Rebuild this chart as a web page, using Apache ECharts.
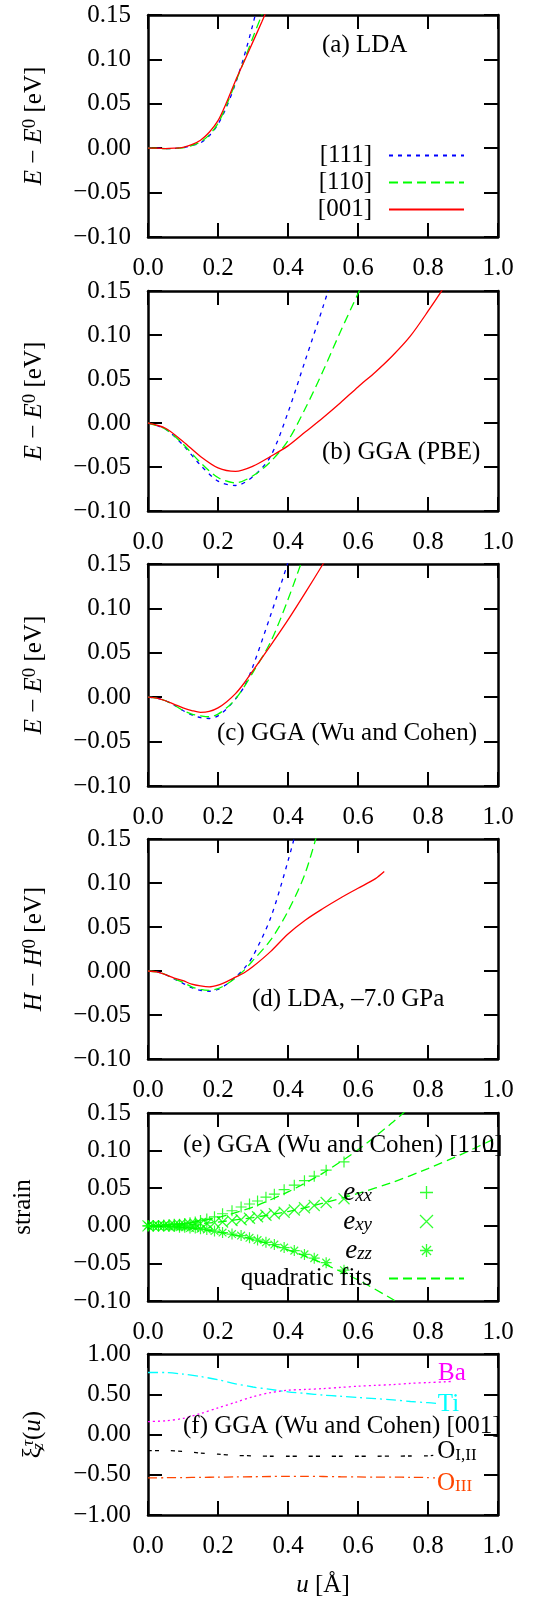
<!DOCTYPE html>
<html><head><meta charset="utf-8">
<script src="https://cdn.jsdelivr.net/npm/echarts@6/dist/echarts.min.js"></script>
<style>html,body{margin:0;padding:0;background:#fff;}#c{width:548px;height:1598px;}</style>
</head><body><div id="c"></div>
<script>
// ---------- data ----------
const X_TICK_STEP = 0.2;
const U_A = [0, 0.025, 0.05, 0.075, 0.1, 0.125, 0.15, 0.175, 0.2, 0.225, 0.25, 0.275, 0.3, 0.325, 0.35];
const A_111 = [0, 0, -0.0005, -0.0003, 0.0005, 0.003, 0.006, 0.014, 0.027, 0.047, 0.073, 0.104, 0.140, 0.180, 0.220];
const A_110 = [0, 0, -0.0005, -0.0003, 0.0005, 0.003, 0.007, 0.015, 0.028, 0.049, 0.074, 0.099, 0.125, 0.150, 0.176];
const A_001 = [0, 0, -0.0005, 0, 0.001, 0.004, 0.009, 0.018, 0.031, 0.052, 0.076, 0.098, 0.120, 0.142, 0.165];

const U_B = [0, 0.05, 0.1, 0.15, 0.2, 0.25, 0.3, 0.35, 0.4, 0.45, 0.5, 0.55, 0.6, 0.65, 0.7, 0.75, 0.8, 0.85, 0.9];
const B_111 = [0, -0.007, -0.025, -0.048, -0.066, -0.071, -0.061, -0.038, 0.012, 0.072, 0.132, 0.195];
const B_110 = [0, -0.007, -0.024, -0.045, -0.062, -0.068, -0.060, -0.044, -0.020, 0.017, 0.059, 0.104, 0.147, 0.190];
const B_001 = [0, -0.006, -0.021, -0.038, -0.051, -0.055, -0.049, -0.038, -0.026, -0.010, 0.006, 0.023, 0.041, 0.058, 0.077, 0.099, 0.127, 0.157, 0.190];

const U_C = [0, 0.025, 0.05, 0.075, 0.1, 0.125, 0.15, 0.175, 0.2, 0.225, 0.25, 0.275, 0.3, 0.35, 0.4, 0.45, 0.5, 0.55];
const C_111 = [0, -0.001, -0.004, -0.009, -0.015, -0.020, -0.023, -0.024, -0.021, -0.013, -0.002, 0.012, 0.035, 0.092, 0.152, 0.220];
const C_110 = [0, -0.001, -0.004, -0.009, -0.015, -0.019, -0.021, -0.022, -0.019, -0.012, -0.002, 0.012, 0.028, 0.062, 0.110, 0.165];
const C_001 = [0, -0.001, -0.004, -0.008, -0.012, -0.015, -0.017, -0.016, -0.012, -0.005, 0.004, 0.016, 0.030, 0.058, 0.087, 0.118, 0.150, 0.183];

const U_D = [0, 0.025, 0.05, 0.075, 0.1, 0.125, 0.15, 0.175, 0.2, 0.225, 0.25, 0.275, 0.3, 0.35, 0.4, 0.45, 0.5, 0.55, 0.6, 0.65, 0.675];
const D_111 = [0, -0.001, -0.004, -0.009, -0.014, -0.019, -0.022, -0.023, -0.021, -0.015, -0.007, 0.003, 0.017, 0.060, 0.125, 0.200];
const D_110 = [0, -0.001, -0.004, -0.009, -0.013, -0.018, -0.021, -0.022, -0.020, -0.015, -0.008, 0.001, 0.012, 0.035, 0.068, 0.112, 0.180];
const D_001 = [0, -0.001, -0.004, -0.008, -0.011, -0.015, -0.017, -0.018, -0.016, -0.012, -0.007, -0.002, 0.005, 0.022, 0.042, 0.058, 0.071, 0.083, 0.094, 0.105, 0.113];

const U_E = [0, 0.015, 0.03, 0.045, 0.06, 0.075, 0.09, 0.105, 0.12, 0.135, 0.15, 0.168, 0.19, 0.213, 0.24, 0.266, 0.29, 0.313, 0.337, 0.361, 0.389, 0.418, 0.447, 0.475, 0.509, 0.56];
const E_XX = [0, 0, 0, 0.001, 0.001, 0.002, 0.002, 0.003, 0.004, 0.005, 0.007, 0.009, 0.012, 0.016, 0.020, 0.025, 0.029, 0.033, 0.038, 0.042, 0.048, 0.054, 0.060, 0.066, 0.074, 0.085];
const E_XY = [0, 0, 0, 0, 0, 0.001, 0.001, 0.001, 0.002, 0.002, 0.003, 0.003, 0.004, 0.005, 0.007, 0.008, 0.010, 0.012, 0.014, 0.016, 0.018, 0.021, 0.024, 0.027, 0.031, 0.036];
const E_ZZ = [0, 0, 0, 0, -0.001, -0.001, -0.002, -0.002, -0.003, -0.003, -0.004, -0.005, -0.007, -0.009, -0.011, -0.013, -0.016, -0.019, -0.022, -0.025, -0.029, -0.033, -0.038, -0.043, -0.049, -0.059];
const U_FIT = [0, 0.1, 0.2, 0.3, 0.4, 0.5, 0.6, 0.7, 0.8, 0.9, 1.0];
const FIT_XX = [0, 0.003, 0.011, 0.025, 0.045, 0.070, 0.101, 0.138, 0.180, 0.228, 0.280];
const FIT_XY = [0, 0.001, 0.005, 0.011, 0.019, 0.030, 0.043, 0.058, 0.076, 0.096, 0.118];
const FIT_ZZ = [0, -0.002, -0.008, -0.018, -0.032, -0.050, -0.072, -0.098, -0.128, -0.162, -0.200];

const U_BA = [0, 0.05, 0.1, 0.15, 0.2, 0.25, 0.3, 0.35, 0.4, 0.45, 0.5, 0.55, 0.6, 0.65, 0.7, 0.75, 0.8, 0.85, 0.87];
const F_BA = [0.16, 0.17, 0.20, 0.26, 0.33, 0.40, 0.47, 0.52, 0.55, 0.56, 0.57, 0.585, 0.60, 0.61, 0.62, 0.635, 0.645, 0.655, 0.66];
const U_TI = [0, 0.05, 0.1, 0.15, 0.2, 0.25, 0.3, 0.35, 0.4, 0.45, 0.5, 0.55, 0.6, 0.65, 0.7, 0.75, 0.8, 0.825];
const F_TI = [0.77, 0.77, 0.75, 0.72, 0.68, 0.63, 0.59, 0.56, 0.53, 0.51, 0.49, 0.475, 0.46, 0.445, 0.43, 0.41, 0.395, 0.385];
const U_O12 = [0, 0.05, 0.1, 0.15, 0.2, 0.25, 0.3, 0.35, 0.4, 0.45, 0.5, 0.55, 0.6, 0.65, 0.7, 0.75, 0.8, 0.815];
const F_O12 = [-0.20, -0.20, -0.21, -0.23, -0.245, -0.26, -0.265, -0.27, -0.27, -0.27, -0.27, -0.27, -0.27, -0.27, -0.268, -0.267, -0.265, -0.26];
const U_O3 = [0, 0.05, 0.1, 0.15, 0.2, 0.25, 0.3, 0.35, 0.4, 0.45, 0.5, 0.55, 0.6, 0.65, 0.7, 0.75, 0.8, 0.82];
const F_O3 = [-0.54, -0.537, -0.535, -0.532, -0.53, -0.527, -0.525, -0.522, -0.52, -0.52, -0.522, -0.525, -0.527, -0.53, -0.53, -0.532, -0.535, -0.54];

const LEGEND_A = ['[111]', '[110]', '[001]'];
const LEGEND_E = ['e_xx', 'e_xy', 'e_zz', 'quadratic fits'];
const PANEL_LABELS = ['(a) LDA', '(b) GGA (PBE)', '(c) GGA (Wu and Cohen)', '(d) LDA, \u20137.0 GPa',
  '(e) GGA (Wu and Cohen) [110]', '(f) GGA (Wu and Cohen) [001]'];

// ---------- layout / style ----------
const F = "'Liberation Serif','Times New Roman',serif";
const FS = 25;
const BLUE = '#0000ff', GREEN = '#00ff00', RED = '#ff0000';
const D111 = [4, 5], D110 = [9, 5];
const PANELS = [{top: 15, h: 222}, {top: 291, h: 220}, {top: 564, h: 222}, {top: 839, h: 220}, {top: 1113, h: 188}, {top: 1354, h: 161}];
const LEFT = 148, WIDTH = 350;

const richBase = {
  i: {fontStyle: 'italic', fontSize: FS, fontFamily: F, lineHeight: 27},
  n: {fontSize: FS, fontFamily: F, lineHeight: 27},
  sup: {fontSize: 19, fontFamily: F, lineHeight: 2, verticalAlign: 'top'},
  subi: {fontSize: 17, fontStyle: 'italic', fontFamily: F, lineHeight: 3, verticalAlign: 'bottom', width: 1, align: 'left'},
  supi: {fontSize: 17, fontStyle: 'italic', fontFamily: F, lineHeight: 3, verticalAlign: 'top'}
};
const YNAMES = [
  '{i|E}{n| \u2212 }{i|E}{sup|0}{n| [eV]}', '{i|E}{n| \u2212 }{i|E}{sup|0}{n| [eV]}', '{i|E}{n| \u2212 }{i|E}{sup|0}{n| [eV]}',
  '{i|H}{n| \u2212 }{i|H}{sup|0}{n| [eV]}', 'strain', '{n|\u03be}{subi|z}{supi|\u03c4}{n|(}{i|u}{n|)}'
];
const NAMEGAP = [100, 100, 100, 100, 111, 101];

const xAxis = [], yAxis = [], grid = [];
PANELS.forEach((p, gi) => {
  grid.push({left: LEFT, width: WIDTH, top: p.top, height: p.h, containLabel: false});
  const isF = gi === 5;
  ['bottom', 'top'].forEach(pos => xAxis.push({
    type: 'value', gridIndex: gi, position: pos, min: 0, max: 1, interval: X_TICK_STEP,
    axisLine: {show: true, onZero: false, lineStyle: {color: '#000', width: 2.5}},
    axisTick: {show: true, inside: true, length: 14, lineStyle: {color: '#000', width: 2}},
    axisLabel: {show: pos === 'bottom', margin: 19, fontSize: FS, fontFamily: F, color: '#000',
      formatter: v => v.toFixed(1)},
    splitLine: {show: false}
  }));
  ['left', 'right'].forEach(pos => yAxis.push({
    type: 'value', gridIndex: gi, position: pos,
    min: isF ? -1 : -0.1, max: isF ? 1 : 0.15, interval: isF ? 0.5 : 0.05,
    axisLine: {show: true, onZero: false, lineStyle: {color: '#000', width: 2.5}},
    axisTick: {show: true, inside: true, length: 14, lineStyle: {color: '#000', width: 2}},
    axisLabel: {show: pos === 'left', margin: 17, fontSize: FS, fontFamily: F, color: '#000',
      formatter: v => v.toFixed(2).replace('-', '\u2212')},
    splitLine: {show: false},
    name: pos === 'left' ? YNAMES[gi] : '', nameLocation: 'middle', nameRotate: 90, nameGap: NAMEGAP[gi],
    nameTextStyle: {fontSize: FS, fontFamily: F, color: '#000', lineHeight: 27, rich: richBase}
  }));
});

const TRANSP = 'rgba(0,0,0,0)';
function curve(gi, name, U, V, color, dash, extra) {
  return Object.assign({
    type: 'line', name, xAxisIndex: 2 * gi, yAxisIndex: 2 * gi,
    data: V.map((v, k) => [U[k], v]), symbol: 'none', smooth: 0.3, clip: true, silent: true,
    lineStyle: {color, width: 1.3, type: dash},
    itemStyle: {color: TRANSP, borderColor: TRANSP, borderWidth: 0}
  }, extra || {});
}
const PLUS = 'path://M0 5L10 5M5 0L5 10';
const CROSS = 'path://M0 0L10 10M10 0L0 10';
const STAR = 'path://M0 5L10 5M5 0L5 10M1.5 1.5L8.5 8.5M8.5 1.5L1.5 8.5';
function marks(name, U, V, sym) {
  return {type: 'scatter', name, xAxisIndex: 8, yAxisIndex: 8, silent: true,
    data: V.map((v, k) => [U[k], v]), symbol: sym, symbolSize: 11,
    itemStyle: {color: TRANSP, borderColor: GREEN, borderWidth: 1.2}};
}
function endLab(text, color, offset, rich) {
  return {endLabel: {show: true, formatter: text, color, fontSize: FS, fontFamily: F, distance: 0,
    offset, lineHeight: 25, rich: rich || {}}};
}
const OR = {m: {fontSize: FS, fontFamily: F, lineHeight: 25}, s: {fontSize: 17, fontFamily: F, lineHeight: 5, verticalAlign: 'bottom'}};

const series = [
  curve(0, LEGEND_A[0], U_A, A_111, BLUE, D111), curve(0, LEGEND_A[1], U_A, A_110, GREEN, D110), curve(0, LEGEND_A[2], U_A, A_001, RED, 'solid'),
  curve(1, LEGEND_A[0], U_B, B_111, BLUE, D111), curve(1, LEGEND_A[1], U_B, B_110, GREEN, D110), curve(1, LEGEND_A[2], U_B, B_001, RED, 'solid'),
  curve(2, LEGEND_A[0], U_C, C_111, BLUE, D111), curve(2, LEGEND_A[1], U_C, C_110, GREEN, D110), curve(2, LEGEND_A[2], U_C, C_001, RED, 'solid'),
  curve(3, LEGEND_A[0], U_D, D_111, BLUE, D111), curve(3, LEGEND_A[1], U_D, D_110, GREEN, D110), curve(3, LEGEND_A[2], U_D, D_001, RED, 'solid'),
  marks(LEGEND_E[0], U_E, E_XX, PLUS), marks(LEGEND_E[1], U_E, E_XY, CROSS), marks(LEGEND_E[2], U_E, E_ZZ, STAR),
  curve(4, LEGEND_E[3], U_FIT, FIT_XX, GREEN, D110, {smooth: 0.2}),
  curve(4, LEGEND_E[3], U_FIT, FIT_XY, GREEN, D110, {smooth: 0.2}),
  curve(4, LEGEND_E[3], U_FIT, FIT_ZZ, GREEN, D110, {smooth: 0.2}),
  curve(5, 'Ba', U_BA, F_BA, '#ff00ff', [2, 3], endLab('Ba', '#ff00ff', [-14.5, -8])),
  curve(5, 'Ti', U_TI, F_TI, '#00ffff', [10, 4, 2, 4], endLab('Ti', '#00ffff', [1, 1])),
  curve(5, 'OI', U_O12, F_O12, '#000000', [4, 3, 4, 12], endLab('{m|O}{s|I,II}', '#000000', [4, -4], OR)),
  curve(5, 'OIII', U_O3, F_O3, '#ff4500', [9, 4, 2, 4], endLab('{m|O}{s|III}', '#ff4500', [2, 5], OR))
];

const legend = [
  {data: LEGEND_A, orient: 'vertical', align: 'right', right: 83, top: 143, padding: 0,
    itemWidth: 75, itemHeight: 10, itemGap: 2, selectedMode: false,
    itemStyle: {borderWidth: 0},
    formatter: n => n + '{g| }',
    textStyle: {fontSize: FS, fontFamily: F, color: '#000', lineHeight: 25, rich: {g: {width: 12, fontSize: FS, lineHeight: 25}}}},
  {data: LEGEND_E, orient: 'vertical', align: 'right', right: 83, top: 1179, padding: 0,
    itemWidth: 75, itemHeight: 13, itemGap: 2, selectedMode: false,
    itemStyle: {borderWidth: 1.3},
    formatter: n => n === 'quadratic fits' ? 'quadratic fits{g| }' : '{e|e}{s|' + n.slice(2) + '}{g| }',
    textStyle: {fontSize: FS, fontFamily: F, color: '#000', lineHeight: 25, rich: {
      e: {fontStyle: 'italic', fontSize: 27, fontFamily: F, lineHeight: 25},
      s: {fontStyle: 'italic', fontSize: 19, fontFamily: F, lineHeight: 6, verticalAlign: 'bottom'},
      g: {width: 12, fontSize: FS, lineHeight: 25}}}}
];

const LABEL_POS = [[322, 45], [322, 452], [217, 733], [252, 999], [183, 1145], [183, 1426]];
const graphic = PANEL_LABELS.map((t, k) => ({
  type: 'text', x: LABEL_POS[k][0], y: LABEL_POS[k][1], z: 5,
  style: {text: t, fontSize: FS, fontFamily: F, fill: '#000', align: 'left', verticalAlign: 'middle',
    textAlign: 'left', textVerticalAlign: 'middle'}
}));
graphic.push({type: 'text', x: 323, y: 1585, z: 5,
  style: {text: '{i|u} [\u00c5]', fontSize: FS, fontFamily: F, fill: '#000', align: 'center', verticalAlign: 'middle',
    textAlign: 'center', textVerticalAlign: 'middle', rich: {i: {fontStyle: 'italic', fontSize: FS, fontFamily: F}}}});

const chart = echarts.init(document.getElementById('c'), null, {renderer: 'canvas'});
chart.setOption({animation: false, backgroundColor: '#fff', grid, xAxis, yAxis, series, legend, graphic});
</script></body></html>
